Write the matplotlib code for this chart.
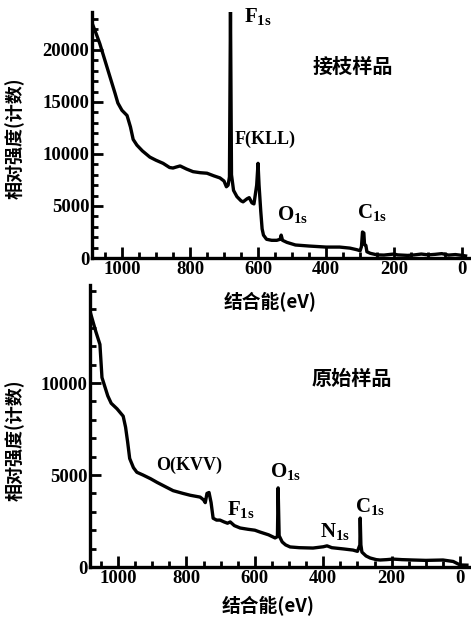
import matplotlib
matplotlib.use("Agg")
import matplotlib.pyplot as plt
from matplotlib.ticker import MultipleLocator

plt.rcParams['font.family'] = ['Noto Sans CJK SC', 'DejaVu Sans']
plt.rcParams['mathtext.fontset'] = 'custom'
plt.rcParams['mathtext.rm'] = 'Liberation Serif:bold'
plt.rcParams['mathtext.bf'] = 'Liberation Serif:bold'
plt.rcParams['mathtext.it'] = 'Liberation Serif:bold'

# ---- data: grafted sample (top) ----
top_ev = [1088, 1075, 1065, 1050, 1035, 1020, 1012, 1000, 985, 975, 967, 956, 940, 918, 900,
          879, 860, 850, 840, 829, 810, 791, 770, 750, 730, 712, 700, 693, 688, 684, 681,
          678, 672, 662, 650, 644, 632, 626, 618, 612, 604, 600, 597, 592, 588, 584, 575,
          560, 545, 535, 532, 528, 515, 490, 450, 400, 360, 330, 310, 300, 296, 293, 289,
          287, 283, 280, 270, 250, 230, 210, 200, 190, 160, 140, 120, 100, 80, 60, 40, 20, 0, -10]
top_counts = [22600, 21500, 20600, 19000, 17400, 15800, 14900, 14200, 13700, 12600, 11400, 10850,
              10300, 9700, 9400, 9100, 8700, 8650, 8750, 8850, 8550, 8300, 8200, 8150, 7900, 7700,
              7400, 6850, 7000, 7800, 24000, 8000, 6500, 5900, 5500, 5400, 5700, 5800, 5300, 5200,
              7000, 9100, 7000, 4500, 2800, 2200, 1800, 1700, 1700, 1800, 2200, 1700, 1500, 1250,
              1150, 1050, 1050, 950, 800, 700, 1100, 2500, 2400, 1300, 1200, 600, 450, 300, 280,
              350, 380, 300, 250, 300, 380, 300, 350, 420, 280, 330, 250, 200]

# ---- data: original sample (bottom) ----
bot_ev = [1082, 1065, 1053, 1047, 1030, 1020, 1003, 985, 978, 972, 966, 955, 945, 927, 905, 886,
          860, 839, 810, 789, 760, 750, 745, 740, 734, 728, 722, 712, 702, 690, 680, 672, 660,
          643, 620, 600, 585, 560, 541, 534, 532, 529, 520, 510, 497, 470, 430, 400, 389, 375,
          340, 313, 300, 293, 292, 290, 287, 275, 263, 245, 234, 215, 196, 170, 137, 100, 50,
          20, 0, -20]
bot_counts = [13900, 12800, 12100, 10300, 9300, 8900, 8600, 8200, 7600, 6800, 5900, 5400, 5150,
              5000, 4800, 4600, 4350, 4150, 4000, 3900, 3800, 3650, 3500, 4000, 4050, 3500, 2650,
              2550, 2550, 2450, 2380, 2450, 2250, 2120, 2050, 2000, 1900, 1750, 1580, 1650, 4300,
              1700, 1360, 1200, 1090, 1050, 1030, 1100, 1150, 1050, 980, 920, 850, 1200, 2660,
              1200, 810, 600, 490, 400, 380, 400, 430, 400, 380, 360, 380, 300, 110, 100]

x_ticks = [1000, 800, 600, 400, 200, 0]
top_y_ticks = [0, 5000, 10000, 15000, 20000]
bot_y_ticks = [0, 5000, 10000]

y_label = "相对强度(计数)"
x_label = "结合能(eV)"
top_title = "接枝样品"
bot_title = "原始样品"

fig = plt.figure(figsize=(4.71, 6.21), dpi=100)

serif_bold = dict(family='Liberation Serif', weight='bold', size=13)
cjk_bold = dict(family=['Noto Sans CJK SC', 'DejaVu Sans'], weight='bold')


def style(ax, yticks, ylim, xlim):
    ax.set_xlim(*xlim)
    ax.set_ylim(*ylim)
    for s in ('top', 'right'):
        ax.spines[s].set_visible(False)
    for s in ('left', 'bottom'):
        ax.spines[s].set_linewidth(2.4)
    ax.set_xticks(x_ticks)
    ax.set_yticks(yticks)
    ax.xaxis.set_minor_locator(MultipleLocator(50))
    ax.yaxis.set_minor_locator(MultipleLocator(1000))
    ax.tick_params(axis='both', which='major', direction='in', length=8, width=2, pad=2)
    ax.tick_params(axis='both', which='minor', direction='in', length=4, width=2)
    for lab in ax.get_xticklabels() + ax.get_yticklabels():
        lab.set_fontfamily('Liberation Serif')
        lab.set_fontweight('bold')
        lab.set_fontsize(13.5)


# top panel
ax1 = fig.add_axes([92 / 471, 1 - 258 / 621, (470 - 92) / 471, (258 - 12) / 621])
ax1.plot(top_ev, top_counts, color='black', lw=2.4, solid_joinstyle='round')
style(ax1, top_y_ticks, (0, 23650), (1088, -23))

ax1.text(642, 23300, r"$\mathbf{F_{1s}}$", fontsize=15, ha='left', va='center')
ax1.text(0.69, 0.78, top_title, transform=ax1.transAxes, fontsize=14.5, ha='center', va='center', **cjk_bold)
ax1.text(670, 11400, "F(KLL)", ha='left', va='center', **serif_bold)
ax1.text(543, 4200, r"$\mathbf{O_{1s}}$", fontsize=15, ha='left', va='center')
ax1.text(308, 4400, r"$\mathbf{C_{1s}}$", fontsize=15, ha='left', va='center')

fig.text(15 / 471, 1 - 138 / 621, y_label, rotation=90, ha='center', va='center', fontsize=13, **cjk_bold)
fig.text(270 / 471, 1 - 302 / 621, x_label, ha='center', va='center', fontsize=13.5, **cjk_bold)

# bottom panel
ax2 = fig.add_axes([90 / 471, 1 - 567 / 621, (470 - 90) / 471, (567 - 285) / 621])
ax2.plot(bot_ev, bot_counts, color='black', lw=2.4, solid_joinstyle='round')
style(ax2, bot_y_ticks, (0, 15330), (1082, -29))

ax2.text(0.69, 0.67, bot_title, transform=ax2.transAxes, fontsize=14.5, ha='center', va='center', **cjk_bold)
ax2.text(890, 5500, "O(KVV)", ha='left', va='center', **serif_bold)
ax2.text(682, 3150, r"$\mathbf{F_{1s}}$", fontsize=15, ha='left', va='center')
ax2.text(556, 5200, r"$\mathbf{O_{1s}}$", fontsize=15, ha='left', va='center')
ax2.text(410, 1950, r"$\mathbf{N_{1s}}$", fontsize=15, ha='left', va='center')
ax2.text(308, 3300, r"$\mathbf{C_{1s}}$", fontsize=15, ha='left', va='center')

fig.text(15 / 471, 1 - 440 / 621, y_label, rotation=90, ha='center', va='center', fontsize=13, **cjk_bold)
fig.text(268 / 471, 1 - 606 / 621, x_label, ha='center', va='center', fontsize=13.5, **cjk_bold)

fig.savefig("out.png", dpi=100)
